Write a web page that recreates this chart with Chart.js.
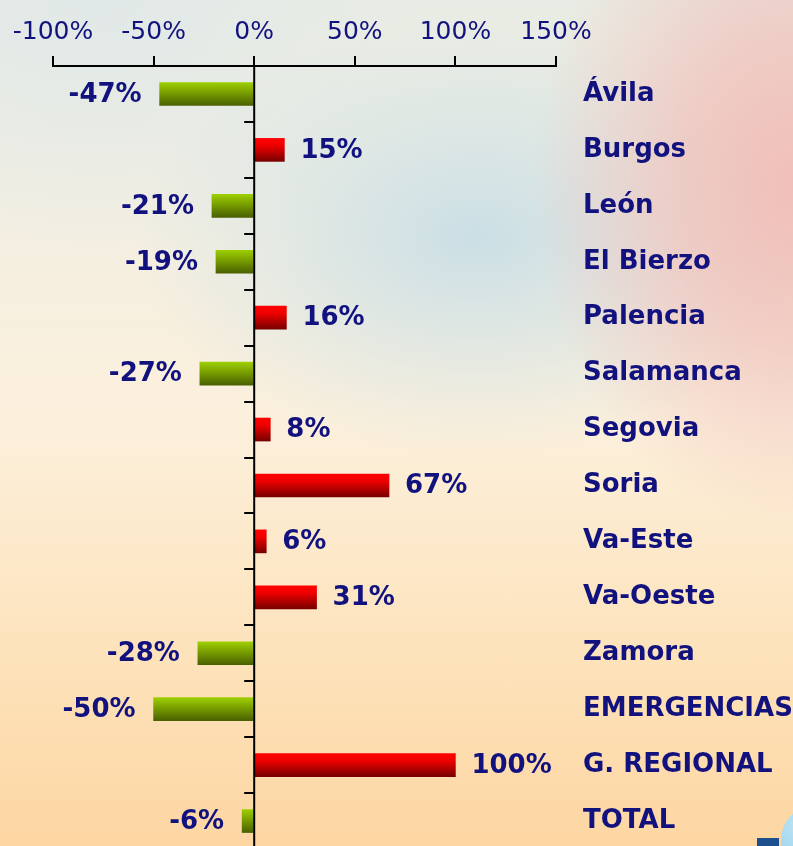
<!DOCTYPE html>
<html>
<head>
<meta charset="utf-8">
<script src="https://cdn.jsdelivr.net/npm/chart.js@4"></script>
<style>
  html, body { margin: 0; padding: 0; overflow: hidden; }
  body {
    width: 793px; height: 846px; position: relative;
    background:
      radial-gradient(ellipse 260px 340px at 100% 22%, rgba(240,188,182,0.95) 0%, rgba(240,192,186,0.7) 45%, rgba(240,200,190,0) 100%),
      radial-gradient(ellipse 340px 220px at 60% 28%, rgba(196,220,230,0.85) 0%, rgba(205,225,230,0.45) 55%, rgba(210,228,232,0) 100%),
      radial-gradient(ellipse 320px 260px at 12% 0%, rgba(224,232,232,0.9) 0%, rgba(224,232,232,0) 100%),
      linear-gradient(180deg, #e8ece4 0%, #f3efe2 25%, #fcf0dc 50%, #fde4be 75%, #fdd6a2 100%);
  }
  #wrap { position: absolute; left: 0; top: 0; width: 793px; height: 849px; }
  .circle { position: absolute; left: 781px; top: 805px; width: 70px; height: 70px; border-radius: 50%;
    background: radial-gradient(circle at 30% 30%, #bfe4f4, #7ec6ea); }
  .square { position: absolute; left: 757px; top: 838px; width: 22px; height: 10px; background: #1b4f8e; }
</style>
</head>
<body>
<div class="circle"></div>
<div class="square"></div>
<div id="wrap"><canvas id="chart" width="793" height="849"></canvas></div>
<script>
// categories and values (% change)
const categories = ['Ávila', 'Burgos', 'León', 'El Bierzo', 'Palencia', 'Salamanca', 'Segovia',
  'Soria', 'Va-Este', 'Va-Oeste', 'Zamora', 'EMERGENCIAS', 'G. REGIONAL', 'TOTAL'];
const changes = [-47, 15, -21, -19, 16, -27, 8, 67, 6, 31, -28, -50, 100, -6];
const xTicks = [-100, -50, 0, 50, 100, 150];

const navy = '#12127f';
const barHeight = 23;

// vertical gradient for each bar, green for negative and red for positive
function barFill(context) {
  const chart = context.chart;
  const yScale = chart.scales.y;
  const value = context.dataset.data[context.dataIndex];
  const neg = value < 0;
  if (!yScale || !chart.chartArea) return neg ? '#78a000' : '#d00000';
  const yc = yScale.getPixelForValue(context.dataIndex);
  const g = chart.ctx.createLinearGradient(0, yc - barHeight / 2, 0, yc + barHeight / 2);
  if (neg) {
    g.addColorStop(0, '#9dcf00');
    g.addColorStop(1, '#4a6000');
  } else {
    g.addColorStop(0, '#ff0000');
    g.addColorStop(0.3, '#f00000');
    g.addColorStop(1, '#780000');
  }
  return g;
}

// zero line with small ticks between categories + value labels
const decorations = {
  id: 'decorations',
  afterDatasetsDraw(chart) {
    const { ctx, chartArea, scales } = chart;
    const x0 = scales.x.getPixelForValue(0);
    const band = scales.y.getPixelForValue(1) - scales.y.getPixelForValue(0);
    ctx.save();
    ctx.strokeStyle = '#000';
    ctx.lineWidth = 2;
    ctx.beginPath();
    ctx.moveTo(x0, chartArea.top);
    ctx.lineTo(x0, chartArea.bottom);
    for (let i = 1; i < categories.length; i++) {
      const y = Math.round(scales.y.getPixelForValue(i) - band / 2);
      ctx.moveTo(x0 - 10, y);
      ctx.lineTo(x0, y);
    }
    ctx.stroke();

    ctx.fillStyle = navy;
    ctx.font = 'bold 26px "DejaVu Sans"';
    ctx.textBaseline = 'middle';
    chart.getDatasetMeta(0).data.forEach((bar, i) => {
      const v = changes[i];
      if (v < 0) {
        ctx.textAlign = 'right';
        ctx.fillText(v + '%', bar.x - 18, bar.y + 1);
      } else {
        ctx.textAlign = 'left';
        ctx.fillText(v + '%', bar.x + 16, bar.y + 1);
      }
    });
    ctx.restore();
  }
};

const ctx = document.getElementById('chart').getContext('2d');

new Chart(ctx, {
  type: 'bar',
  data: {
    labels: categories,
    datasets: [{
      data: changes,
      backgroundColor: barFill,
      barThickness: barHeight,
      borderWidth: 0
    }]
  },
  options: {
    indexAxis: 'y',
    responsive: false,
    animation: false,
    layout: { padding: { left: 53, right: 0, top: 0, bottom: 0 } },
    plugins: {
      legend: { display: false },
      tooltip: { enabled: false }
    },
    scales: {
      x: {
        type: 'linear',
        position: 'top',
        min: -100,
        max: 150,
        afterBuildTicks: (scale) => { scale.ticks = xTicks.map(v => ({ value: v })); },
        afterFit: (scale) => { scale.height = 66; },
        ticks: {
          callback: (v) => v + '%',
          color: navy,
          font: { family: '"DejaVu Sans"', size: 25 },
          padding: 9,
          maxRotation: 0
        },
        grid: {
          drawOnChartArea: false,
          drawTicks: true,
          tickLength: 10,
          color: '#000',
          lineWidth: 2
        },
        border: { color: '#000', width: 2 }
      },
      y: {
        type: 'category',
        position: 'right',
        afterFit: (scale) => {
          scale.width = 237;
          scale.paddingTop = 0;
          scale.paddingBottom = 0;
        },
        ticks: {
          color: navy,
          font: { family: '"DejaVu Sans"', size: 26, weight: 'bold' },
          padding: 27
        },
        grid: { display: false, drawTicks: false },
        border: { display: false }
      }
    }
  },
  plugins: [decorations]
});
</script>
</body>
</html>
